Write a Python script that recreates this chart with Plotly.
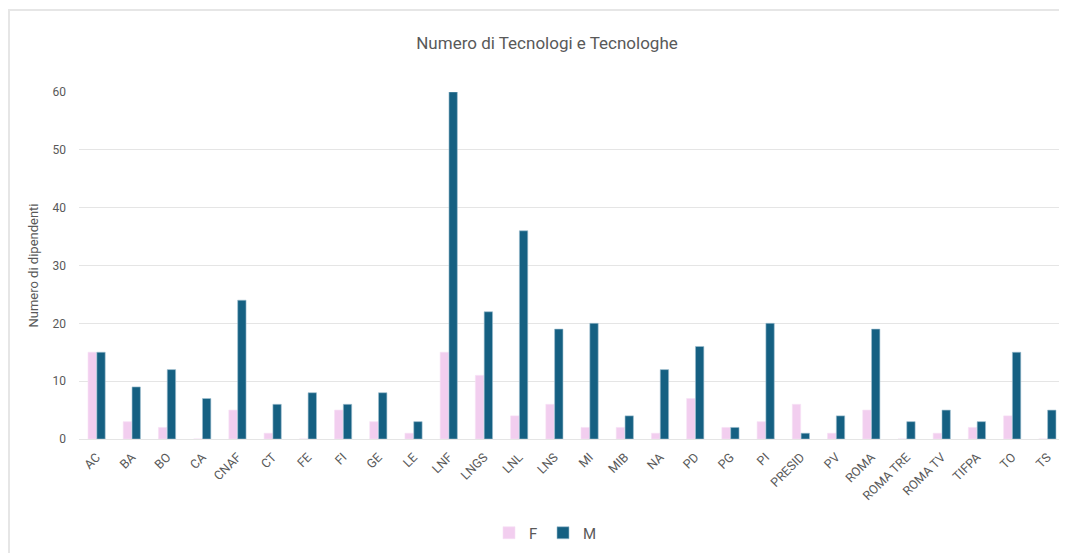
import plotly.graph_objects as go

categories = ["AC", "BA", "BO", "CA", "CNAF", "CT", "FE", "FI", "GE", "LE", "LNF", "LNGS", "LNL", "LNS",
              "MI", "MIB", "NA", "PD", "PG", "PI", "PRESID", "PV", "ROMA", "ROMA TRE", "ROMA TV", "TIFPA", "TO", "TS"]
f_values = [15, 3, 2, 0, 5, 1, 0, 5, 3, 1, 15, 11, 4, 6, 2, 2, 1, 7, 2, 3, 6, 1, 5, 0, 1, 2, 4, 0]
m_values = [15, 9, 12, 7, 24, 6, 8, 6, 8, 3, 60, 22, 36, 19, 20, 4, 12, 16, 2, 20, 1, 4, 19, 3, 5, 3, 15, 5]
y_ticks = [0, 10, 20, 30, 40, 50, 60]

FONT = "Roboto"
GRAY = "#595959"

W, H = 1059, 545
L, T, B, R = 71, 84, 114, 2

fig = go.Figure()
fig.add_trace(go.Bar(x=categories, y=f_values, name="F",
                     marker=dict(color="#F2CEEF", line=dict(color="#F7E0F5", width=0.6))))
fig.add_trace(go.Bar(x=categories, y=m_values, name="M",
                     marker=dict(color="#156082", line=dict(color="#9FC0D0", width=0.6))))

ph = H - T - B
fig.update_layout(
    width=W, height=H,
    margin=dict(l=L, r=R, t=T, b=B),
    paper_bgcolor="white", plot_bgcolor="white",
    barmode="group", bargap=0.5, bargroupgap=0.05,
    font=dict(family=FONT, color=GRAY, size=12),
    title=dict(text="Numero di Tecnologi e Tecnologhe", x=(547 - 8 - L) / (W - L - R), xref="paper",
               xanchor="center", y=1 - 35 / H, yanchor="middle",
               font=dict(size=17, color=GRAY, family=FONT)),
    legend=dict(orientation="h", x=(543 - 8 - L) / (W - L - R), xanchor="center",
                y=-(525 - (T + ph)) / ph, yanchor="middle", bgcolor="rgba(0,0,0,0)",
                font=dict(size=15, color=GRAY), itemwidth=30, traceorder="normal",
                entrywidth=9, entrywidthmode="pixels"),
    shapes=[
        dict(type="line", xref="paper", yref="paper", x0=-L / (W - L - R) + 0.001, x1=-L / (W - L - R) + 0.001,
             y0=(T + ph - H) / ph, y1=(T + ph - 2) / ph, line=dict(color="#E6E6E6", width=2)),
        dict(type="line", xref="paper", yref="paper", x0=-L / (W - L - R), x1=1 + R / (W - L - R),
             y0=(T + ph - 2) / ph, y1=(T + ph - 2) / ph, line=dict(color="#E6E6E6", width=2)),
    ],
)
fig.update_xaxes(showgrid=False, tickangle=-45, tickfont=dict(size=12.5, color=GRAY),
                 showline=True, linecolor="#E5E5E5", linewidth=1, ticks="", ticklabelstandoff=5)
fig.update_yaxes(range=[0, 60], tickvals=y_ticks, showgrid=True, gridcolor="#E5E5E5", gridwidth=1,
                 zeroline=False, tickfont=dict(size=12, color=GRAY), ticks="", ticklabelstandoff=12,
                 title=dict(text="Numero di dipendenti", font=dict(size=13, color=GRAY), standoff=10))

fig.write_html("out.html")
